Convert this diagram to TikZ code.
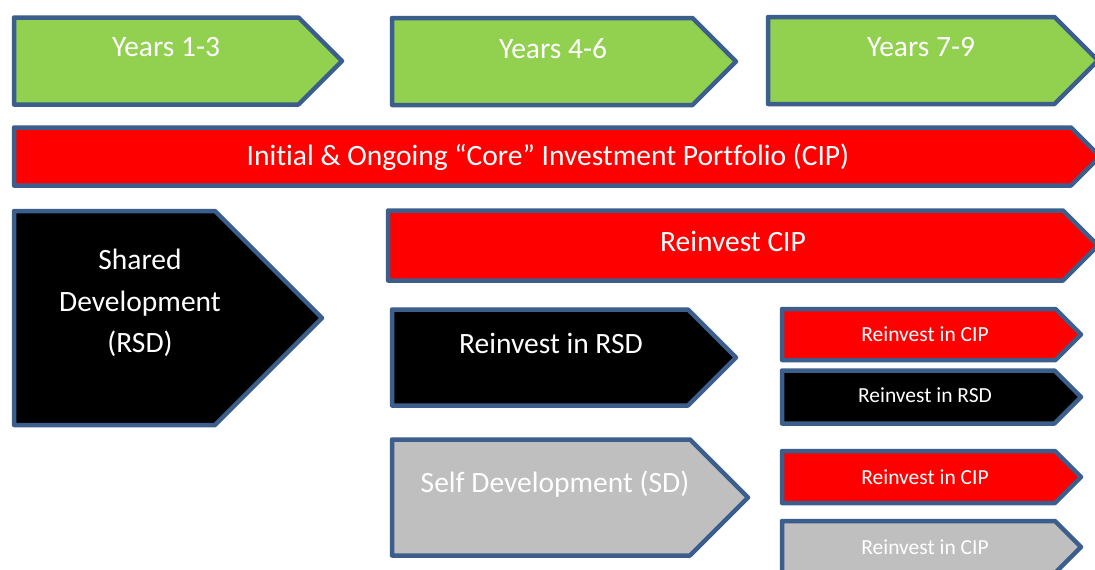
\documentclass[tikz,border=0pt]{standalone}
\usepackage{fontspec}
\setmainfont{Carlito}[Ligatures=NoCommon]
\usetikzlibrary{shapes.symbols}
\definecolor{edge}{HTML}{3B5E8C}
\definecolor{leaf}{HTML}{92D050}
\definecolor{ash}{HTML}{BFBFBF}
\begin{document}
\begin{tikzpicture}[x=1pt, y=-1pt,
	s/.style={signal, signal to=east, signal pointer angle=90, draw=edge, line width=4.5pt, line join=round, anchor=west, inner sep=0pt, outer sep=0pt},
	big/.style={text=white, font=\fontsize{29.5}{41.5}\selectfont, align=center},
	sm/.style={text=white, font=\fontsize{21.5}{24}\selectfont}]
	\clip (0,0) rectangle (1095,570);
	% years
	\node[s, fill=leaf, minimum width=328, minimum height=87] (y13) at (14,61) {};
	\node[s, fill=leaf, minimum width=344, minimum height=87] (y46) at (392,61.5) {};
	\node[s, fill=leaf, minimum width=330, minimum height=87] (y79) at (768,60.5) {};
	\node[big] (t13) at (166,47) {Years 1-3};
	\node[big] (t46) at (553,49) {Years 4-6};
	\node[big] (t79) at (921,47) {Years 7-9};
	% core portfolio
	\node[s, fill=red, minimum width=1086, minimum height=58] (cip) at (14,156.5) {};
	\node[big] (tcip) at (548,157) {Initial \& Ongoing “Core” Investment Portfolio (CIP)};
	% shared development
	\node[s, fill=black, minimum width=308, minimum height=214] (rsd) at (14,318) {};
	\node[big] (trsd) at (140,303) {Shared\\Development\\(RSD)};
	\node[s, fill=red, minimum width=710, minimum height=70] (rcip) at (388,245.5) {};
	\node[big] (trcip) at (733,241) {Reinvest CIP};
	\node[s, fill=black, minimum width=344, minimum height=96] (rrsd) at (392,357.5) {};
	\node[big] (trrsd) at (551,343) {Reinvest in RSD};
	\node[s, fill=ash, minimum width=356, minimum height=116] (sd) at (392,497.5) {};
	\node[big] (tsd) at (555,484) {Self Development (SD)};
	% years 7-9 split
	\node[s, fill=red, minimum width=299, minimum height=51] (a) at (782,334.5) {};
	\node[s, fill=black, minimum width=299, minimum height=53] (b) at (782,397) {};
	\node[s, fill=red, minimum width=299, minimum height=52] (c) at (782,477) {};
	\node[s, fill=ash, minimum width=299, minimum height=52] (d) at (782,547) {};
	\node[sm] (ta) at (925,334) {Reinvest in CIP};
	\node[sm] (tb) at (925,395) {Reinvest in RSD};
	\node[sm] (tc) at (925,477) {Reinvest in CIP};
	\node[sm] (td) at (925,547) {Reinvest in CIP};
\end{tikzpicture}
\end{document}
